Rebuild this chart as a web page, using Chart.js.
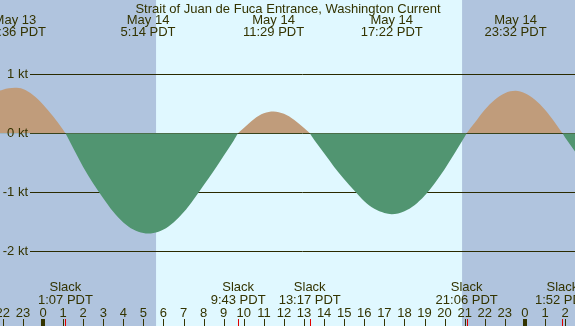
<!DOCTYPE html>
<html>
<head>
<meta charset="utf-8">
<script src="https://cdn.jsdelivr.net/npm/chart.js@4.4.1/dist/chart.umd.min.js"></script>
<style>
  html, body { margin: 0; padding: 0; background: #b0c4de; }
  canvas { display: block; }
</style>
</head>
<body>
<canvas id="c" width="575" height="326"></canvas>
<script>
// ---- Data (hours since May 14 00:00 PDT) ----
const hours = [-2.5, -2.0, -1.4, -1.0, -0.5, 0, 0.5, 1.0, 1.117, 1.5, 2.0, 2.5, 3.0, 3.5, 4.0, 4.5, 5.0, 5.233,
  5.5, 6.0, 6.5, 7.0, 7.5, 8.0, 8.5, 9.0, 9.5, 9.717, 10.0, 10.5, 11.0, 11.483, 12.0, 12.5, 13.0, 13.283,
  13.5, 14.0, 14.5, 15.0, 15.5, 16.0, 16.5, 17.0, 17.367, 18.0, 18.5, 19.0, 19.5, 20.0, 20.5, 21.0, 21.1,
  21.5, 22.0, 22.5, 23.0, 23.533, 24.0, 24.5, 25.0, 25.5, 25.867, 26.0, 26.5, 27.0];
const speed = [0.68, 0.74, 0.77, 0.75, 0.65, 0.49, 0.29, 0.06, 0, -0.25, -0.57, -0.85, -1.10, -1.33, -1.51, -1.63, -1.69, -1.70,
  -1.69, -1.63, -1.51, -1.34, -1.12, -0.88, -0.64, -0.38, -0.12, 0, 0.09, 0.24, 0.34, 0.37, 0.33, 0.23, 0.09, 0,
  -0.11, -0.34, -0.57, -0.78, -0.97, -1.15, -1.28, -1.35, -1.37, -1.32, -1.22, -1.06, -0.85, -0.61, -0.34, -0.06, 0,
  0.18, 0.40, 0.57, 0.68, 0.72, 0.68, 0.57, 0.40, 0.18, 0, -0.07, -0.31, -0.55];

const maxTimes = [-1.4, 5.233, 11.483, 17.367, 23.533];
const maxDates = ["May 13", "May 14", "May 14", "May 14", "May 14"];
const maxLabels = ["22:36 PDT", "5:14 PDT", "11:29 PDT", "17:22 PDT", "23:32 PDT"];

const slackTimes = [1.117, 9.717, 13.283, 21.1, 25.867];
const slackLabels = ["1:07 PDT", "9:43 PDT", "13:17 PDT", "21:06 PDT", "1:52 PDT"];

const hourTicks = [-2, -1, 0, 1, 2, 3, 4, 5, 6, 7, 8, 9, 10, 11, 12, 13, 14, 15, 16, 17, 18, 19, 20, 21, 22, 23, 24, 25, 26];
const hourLabels = ["22", "23", "0", "1", "2", "3", "4", "5", "6", "7", "8", "9", "10", "11", "12", "13", "14", "15", "16", "17", "18", "19", "20", "21", "22", "23", "0", "1", "2"];

const kTicks = [1, 0, -1, -2];
const kLabels = ["1 kt", "0 kt", "-1 kt", "-2 kt"];

const sunrise = 5.63, sunset = 20.87;
const title = "Strait of Juan de Fuca Entrance, Washington Current";

// ---- Styles ----
const NIGHT = "#b0c4de", DAY = "#e0f8ff", TXT = "#333300", GRID = "#2a2a00";
const FLOOD = "#c09c7b", EBB = "#519571";
const FONT = "13px 'Liberation Sans', Arial, sans-serif";

const decor = {
  id: "decor",
  beforeDraw(chart) {
    const { ctx, scales: { x }, chartArea: a } = chart;
    ctx.save();
    ctx.fillStyle = NIGHT;
    ctx.fillRect(0, 0, chart.width, chart.height);
    const x1 = x.getPixelForValue(sunrise), x2 = x.getPixelForValue(sunset);
    ctx.fillStyle = DAY;
    ctx.fillRect(x1, 0, x2 - x1, chart.height);
    ctx.restore();
  },
  beforeDatasetsDraw(chart) {
    const { ctx, scales: { y } } = chart;
    ctx.save();
    ctx.strokeStyle = GRID;
    ctx.lineWidth = 1;
    kTicks.forEach(v => {
      const py = Math.round(y.getPixelForValue(v)) + 0.5;
      ctx.beginPath();
      ctx.moveTo(30, py);
      ctx.lineTo(chart.width, py);
      ctx.stroke();
    });
    ctx.restore();
  },
  afterDraw(chart) {
    const { ctx, scales: { x, y } } = chart;
    ctx.save();
    ctx.font = FONT;
    ctx.fillStyle = TXT;
    // y labels
    ctx.textAlign = "right";
    ctx.textBaseline = "middle";
    kTicks.forEach((v, i) => ctx.fillText(kLabels[i], 28, y.getPixelForValue(v)));
    // title
    ctx.textAlign = "center";
    ctx.textBaseline = "alphabetic";
    ctx.fillText(title, 288, 12.5);
    // max current labels
    maxTimes.forEach((t, i) => {
      const px = x.getPixelForValue(t);
      ctx.fillText(maxDates[i], px, 24);
      ctx.fillText(maxLabels[i], px, 36);
    });
    // slack labels
    slackTimes.forEach((t, i) => {
      const px = x.getPixelForValue(t);
      ctx.fillText("Slack", px, 291);
      ctx.fillText(slackLabels[i], px, 304);
    });
    // hour labels and ticks
    hourTicks.forEach((h, i) => {
      const px = x.getPixelForValue(h);
      ctx.fillStyle = TXT;
      ctx.fillText(hourLabels[i], px, 317);
      const midnight = hourLabels[i] === "0";
      if (midnight) ctx.fillRect(Math.round(px) - 2, 319, 4, 7);
      else ctx.fillRect(Math.round(px), 319, 1, 7);
    });
    ctx.fillStyle = "#e00000";
    slackTimes.forEach(t => {
      const px = x.getPixelForValue(t);
      ctx.fillRect(Math.round(px), 319, 1, 7);
    });
    ctx.restore();
  }
};

const pxPerHour = 20.08, zeroX = 43;
const xMin = -zeroX / pxPerHour, xMax = xMin + 575 / pxPerHour;
const pxPerKt = 59, zeroY = 133.3;
const yMax = zeroY / pxPerKt, yMin = -(326 - zeroY) / pxPerKt;

new Chart(document.getElementById("c"), {
  type: "line",
  data: {
    datasets: [{
      data: hours.map((h, i) => ({ x: h, y: speed[i] })),
      borderWidth: 0,
      borderColor: "rgba(0,0,0,0)",
      pointRadius: 0,
      cubicInterpolationMode: "monotone",
      fill: { target: "origin", above: FLOOD, below: EBB }
    }]
  },
  options: {
    responsive: false,
    animation: false,
    devicePixelRatio: 1,
    layout: { padding: 0 },
    plugins: { legend: { display: false }, tooltip: { enabled: false }, title: { display: false } },
    scales: {
      x: { type: "linear", display: false, min: xMin, max: xMax },
      y: { type: "linear", display: false, min: yMin, max: yMax }
    }
  },
  plugins: [decor]
});
</script>
</body>
</html>
